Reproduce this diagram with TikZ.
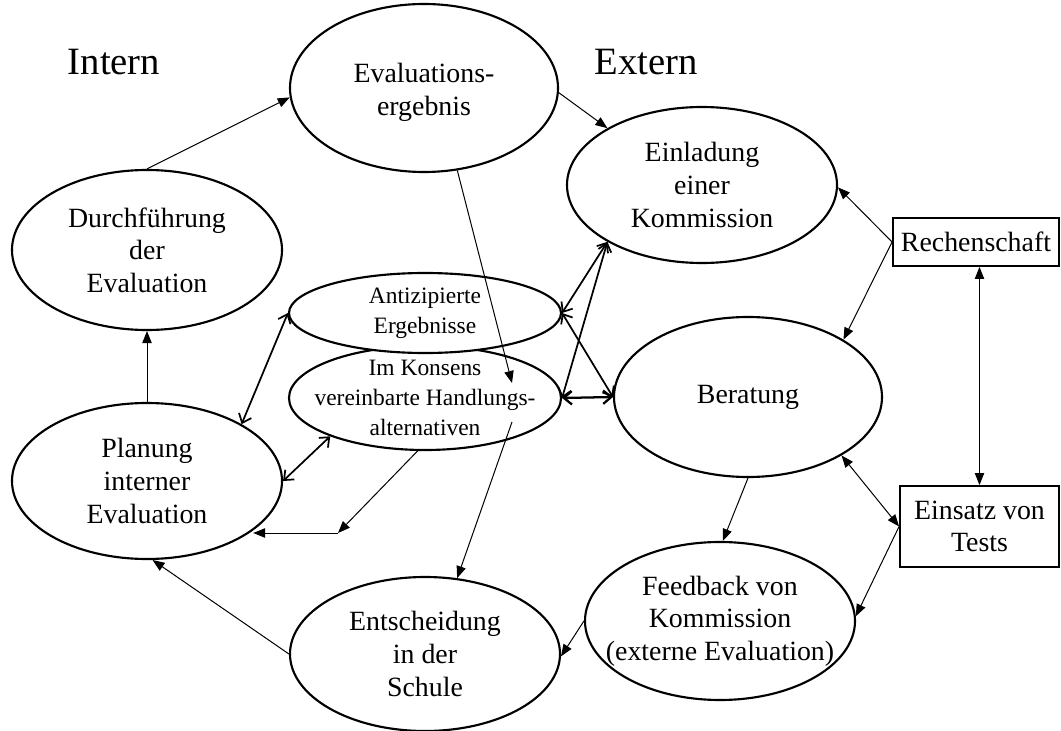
\documentclass[tikz,border=0pt]{standalone}
\usepackage{fontspec}
\setmainfont{Liberation Serif}
\usetikzlibrary{arrows.meta,shapes.geometric,calc}
\begin{document}
\begin{tikzpicture}[x=0.75pt,y=-0.75pt,
  ell/.style={ellipse, draw, line width=1.6pt, fill=white, align=center, inner xsep=-100pt, inner ysep=-60pt, font=\fontsize{20.9}{24.5}\selectfont},
  sm/.style={font=\fontsize{17.6}{22.5}\selectfont},
  box/.style={rectangle, draw, line width=1.4pt, align=center, inner sep=0pt, font=\fontsize{20.9}{24.5}\selectfont},
  tarr/.style={line width=0.75pt, -{Triangle[length=9pt,width=7pt]}},
  tdarr/.style={line width=0.75pt, {Triangle[length=9pt,width=7pt]}-{Triangle[length=9pt,width=7pt]}},
  barr/.style={line width=1.3pt, {Straight Barb[length=6pt,width=10pt]}-{Straight Barb[length=6pt,width=10pt]}},
  head/.style={font=\fontsize{29}{32}\selectfont, anchor=base}
]
\useasboundingbox (0,0) rectangle (1061,731);
\node[ell, minimum width=201pt, minimum height=126pt] (evr) at (424,88) {\rule{0pt}{21pt}Evaluations-\\ergebnis};
\node[ell, minimum width=202.5pt, minimum height=120pt] (durch) at (147,250) {Durchführung\\der\\Evaluation};
\node[ell, minimum width=202.5pt, minimum height=117pt] (plan) at (147,481) {Planung\\interner\\Evaluation};
\node[ell, sm, minimum width=204pt, minimum height=78pt] (kons) at (425,398) {Im Konsens\\vereinbarte Handlungs-\\alternativen};
\node[ell, sm, minimum width=204pt, minimum height=60pt] (antiz) at (425,313) {Antizipierte\\Ergebnisse};
\node[ell, minimum width=202.5pt, minimum height=115.5pt] (entsch) at (425,654) {Entscheidung\\in der\\Schule};
\node[ell, minimum width=202.5pt, minimum height=117pt] (einl) at (702,185) {Einladung\\einer\\Kommission};
\node[ell, minimum width=201pt, minimum height=120pt] (ber) at (748,397) {Beratung};
\node[ell, minimum width=202.5pt, minimum height=118.5pt] (feed) at (720,621) {Feedback von\\Kommission\\(externe Evaluation)};
\node[box, minimum width=124.5pt, minimum height=36pt] (rech) at (976,242) {Rechenschaft};
\node[box, minimum width=119.25pt, minimum height=60.75pt] (eins) at (979.5,526.5) {Einsatz von\\Tests};
\node[head] (intern) at (114,75) {Intern};
\node[head] (extern) at (646,75) {Extern};

\draw[tarr] (plan.north) -- (durch.south);
\draw[tarr] (durch.north) -- (evr.184);
\draw[tarr] (evr.-2) -- (einl.149);
\draw[tarr] (evr.-68.5) -- ($(kons.center)+(87,-15)$);
\coordinate (k1) at ($(kons.center)+(87,24)$);
\draw[tarr] (k1) -- (entsch.67.5);
\draw[tarr] (entsch.west) -- (plan.-86.6);
\draw[tarr] (feed.west) -- (entsch.-1);
\draw[tarr] (ber.south) -- (feed.88.6);
\draw[tdarr] (eins.north |- rech.south) -- (eins.north);
\draw[tarr] (rech.west) -- (einl.-1);
\draw[tarr] (rech.west) -- (ber.31);
\draw[tdarr] (eins.west) -- (ber.-32);
\draw[tarr] (eins.west) -- (feed.2);
\draw[barr] (plan.31) -- (antiz.west);
\draw[barr] (plan.east) -- (kons.202);
\coordinate (corner) at (338,533);
\draw[tarr] (kons.262.5) -- (corner);
\draw[tarr] (corner) -- (corner -| plan.-25);
\draw[barr] (antiz.east) -- (einl.211.7);
\draw[barr] (antiz.east) -- (ber.west);
\draw[barr] (kons.east) -- (einl.211.7);
\draw[barr, line width=1.7pt] (kons.east) -- (ber.west);
\end{tikzpicture}
\end{document}
